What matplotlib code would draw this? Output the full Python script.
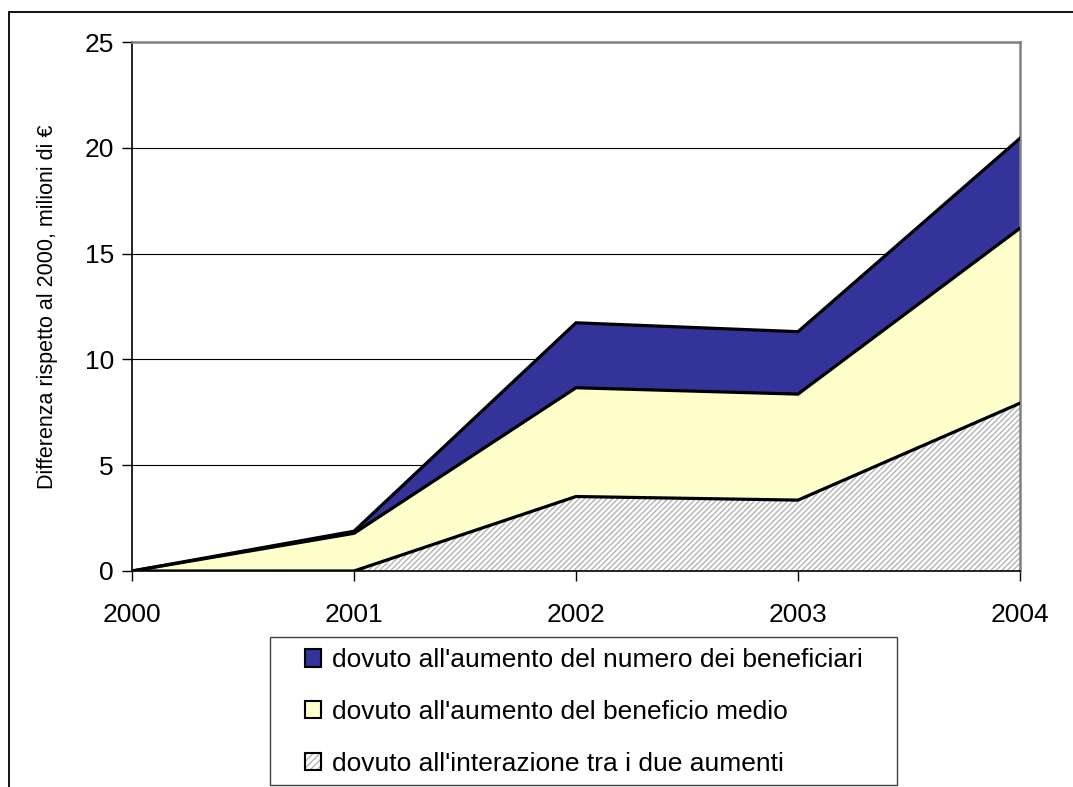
import matplotlib
matplotlib.use('Agg')
import matplotlib.pyplot as plt
from matplotlib.patches import Patch, Rectangle
from matplotlib.legend_handler import HandlerTuple
import numpy as np

plt.rcParams['font.family'] = ['Liberation Sans', 'DejaVu Sans']

# dati (milioni di euro, differenza rispetto al 2000)
anni = [2000, 2001, 2002, 2003, 2004]
interazione = [0.0, 0.0, 3.52, 3.35, 7.93]
beneficio_medio = [0.0, 1.78, 5.14, 5.01, 8.27]
numero_beneficiari = [0.0, 0.10, 3.07, 2.95, 4.25]

etichette = ["dovuto all'aumento del numero dei beneficiari",
             "dovuto all'aumento del beneficio medio",
             "dovuto all'interazione tra i due aumenti"]

blu = '#333399'
giallo = '#FFFFCC'

x = np.array(anni)
s1 = np.array(interazione)
s2 = s1 + np.array(beneficio_medio)
s3 = s2 + np.array(numero_beneficiari)

W, H = 1073, 787
fig = plt.figure(figsize=(W / 100, H / 100), dpi=100)
ax = fig.add_axes([132 / W, 1 - 571 / H, (1020 - 132) / W, (571 - 42) / H])

# aree impilate
ax.fill_between(x, 0, s1, facecolor='white', edgecolor='#b4b4b4', hatch='//////', linewidth=0, zorder=2)
ax.fill_between(x, s1, s2, facecolor=giallo, linewidth=0, zorder=2)
ax.fill_between(x, s2, s3, facecolor=blu, linewidth=0, zorder=2)
for s in (s1, s2, s3):
    ax.plot(x, s, color='black', linewidth=2.3, zorder=3, solid_joinstyle='miter')

ax.set_xlim(2000, 2004)
ax.set_ylim(0, 25)
ax.set_xticks(anni)
ax.set_yticks([0, 5, 10, 15, 20, 25])
ax.yaxis.grid(True, color='black', linewidth=0.8)
ax.set_axisbelow(True)

ax.tick_params(axis='x', direction='out', length=7, width=1, pad=16, labelsize=19)
ax.tick_params(axis='y', direction='out', length=7, width=1, pad=6, labelsize=19)

for lato in ('top', 'right'):
    ax.spines[lato].set_color('#808080')
    ax.spines[lato].set_linewidth(1.8)
for lato in ('left', 'bottom'):
    ax.spines[lato].set_color('black')
    ax.spines[lato].set_linewidth(1.2)
ax.spines['bottom'].set_zorder(4)

ax.set_ylabel('Differenza rispetto al 2000, milioni di €', fontsize=15.5, labelpad=19)

# legenda
maniglie = [
    Patch(facecolor=blu, edgecolor='black', linewidth=1.5),
    Patch(facecolor=giallo, edgecolor='black', linewidth=1.5),
    (Patch(facecolor='white', edgecolor='#b4b4b4', hatch='/////', linewidth=0),
     Patch(facecolor='none', edgecolor='black', linewidth=1.5)),
]
fig.add_artist(Rectangle((270 / W, 1 - 785 / H), (897 - 270) / W, (785 - 637) / H,
                         transform=fig.transFigure, facecolor='white',
                         edgecolor='#404040', linewidth=1.0))
leg = fig.legend(maniglie, etichette, loc='center', bbox_to_anchor=((270 + 897) / 2 / W, 1 - 712 / H),
                 frameon=False, fontsize=19, handlelength=0.62, handleheight=0.62,
                 handletextpad=0.4, labelspacing=1.05,
                 handler_map={tuple: HandlerTuple(ndivide=1, pad=0)})

# cornice esterna
fig.add_artist(Rectangle((9 / W, -0.1), 1.2, 1.1 - 12 / H, transform=fig.transFigure,
                         facecolor='none', edgecolor='black', linewidth=1.3))

fig.savefig('out.png', dpi=100)
